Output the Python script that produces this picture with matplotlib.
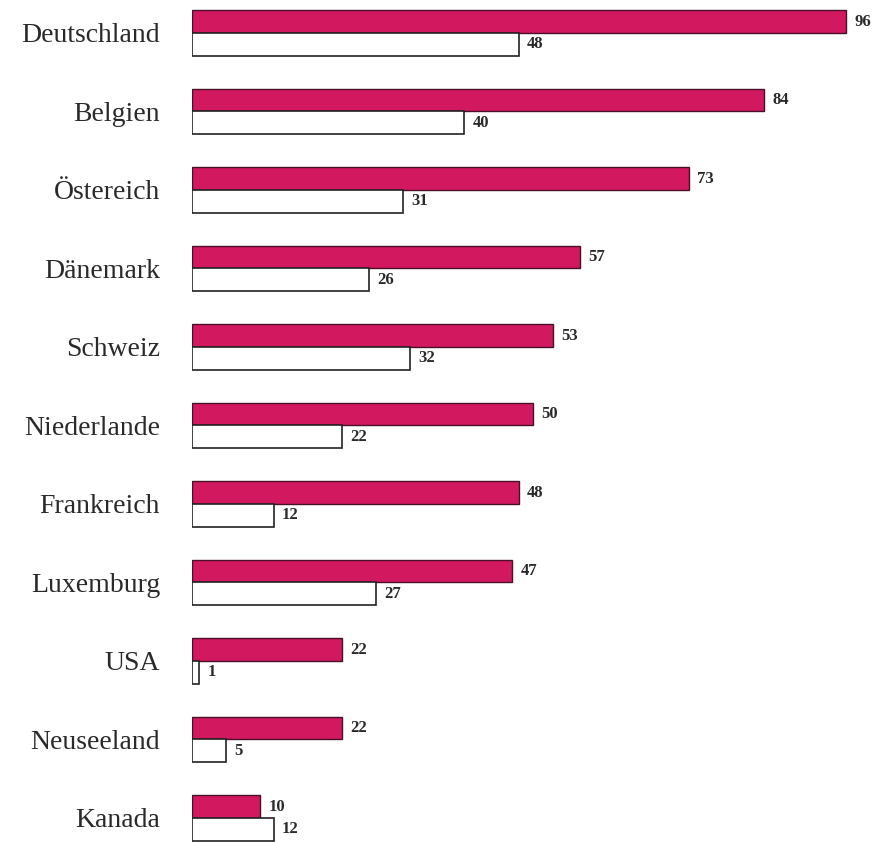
import matplotlib
matplotlib.use("Agg")
import matplotlib.pyplot as plt
import numpy as np

categories = ["Deutschland", "Belgien", "Östereich", "Dänemark", "Schweiz",
              "Niederlande", "Frankreich", "Luxemburg", "USA", "Neuseeland", "Kanada"]
series_a = [96, 84, 73, 57, 53, 50, 48, 47, 22, 22, 10]
series_b = [48, 40, 31, 26, 32, 22, 12, 27, 1, 5, 12]

W, H = 877, 842
fig = plt.figure(figsize=(W / 100, H / 100), dpi=100)
left_px = 192
unit_px = 6.81
ax = fig.add_axes([left_px / W, 0, (100 * unit_px) / W, 1])

y = np.arange(len(categories))
h = 0.287
ax.barh(y - h / 2, series_a, height=h, color="#D2185F", edgecolor="#4a1028", linewidth=1.0)
ax.barh(y + h / 2, series_b, height=h, color="white", edgecolor="#222222", linewidth=1.2)

serif = ["Liberation Serif", "DejaVu Serif"]
for i, (a, b) in enumerate(zip(series_a, series_b)):
    ax.annotate(str(a), (a, i - h / 2), xytext=(6, 0), textcoords="offset points",
                va="center", ha="left", fontsize=12, fontweight="bold", family=serif, color="#2a2a2a")
    ax.annotate(str(b), (b, i + h / 2), xytext=(6, 0), textcoords="offset points",
                va="center", ha="left", fontsize=12, fontweight="bold", family=serif, color="#2a2a2a")

ax.set_yticks(y)
ax.set_yticklabels(categories, family=serif, fontsize=20, color="#2a2a2a")
ax.tick_params(axis="y", length=0, pad=23)
ax.set_xticks([])
ax.set_xlim(0, 100)
ax.set_ylim(10.306, -0.42)
for s in ax.spines.values():
    s.set_visible(False)

fig.savefig("out.png", dpi=100)
